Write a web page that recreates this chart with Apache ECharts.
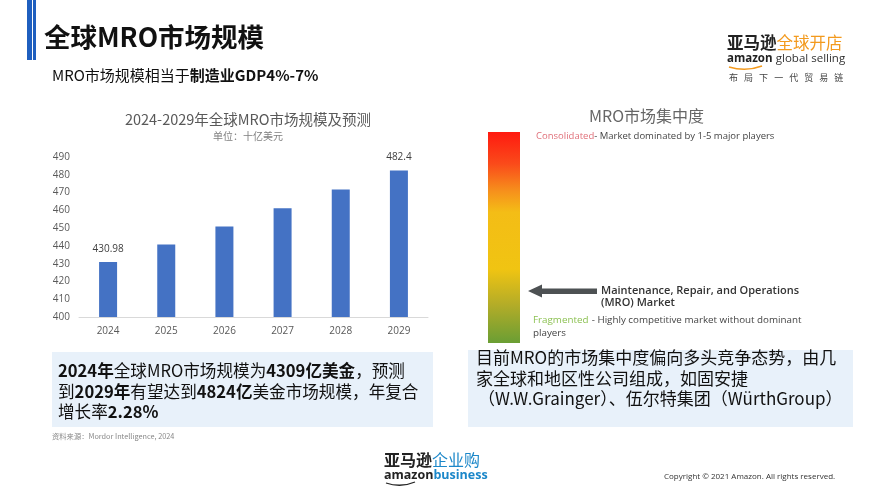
<!DOCTYPE html>
<html>
<head>
<meta charset="utf-8">
<script src="https://cdn.jsdelivr.net/npm/echarts@6/dist/echarts.min.js"></script>
<style>
  html, body { margin: 0; padding: 0; background: #fff; }
  #main { width: 889px; height: 500px; }
</style>
</head>
<body>
<div id="main"></div>
<script>
// 图表数据
const years = ['2024', '2025', '2026', '2027', '2028', '2029']
const marketSize = [430.98, 440.81, 450.86, 461.14, 471.65, 482.4] // 十亿美元
const labelShown = [true, false, false, false, false, true]
const yTicks = [400, 410, 420, 430, 440, 450, 460, 470, 480, 490]

const cjk = '"Noto Sans CJK SC", "Noto Sans", sans-serif'
const latin = '"Open Sans", "Noto Sans", sans-serif'

const chart = echarts.init(document.getElementById('main'))

// 文本元素，y 为垂直中心
function txt(x, y, style) {
  return {
    type: 'text', x: x, y: y,
    style: Object.assign({ verticalAlign: 'middle', align: 'left' }, style)
  }
}

// 柱状图以外的幻灯片元素
const slideGraphics = [
  // 标题左侧蓝条
  { type: 'rect', shape: { x: 27, y: 0, width: 5, height: 60 }, style: { fill: '#1f5fbf' } },
  { type: 'rect', shape: { x: 33, y: 0, width: 3, height: 60 }, style: { fill: '#1f5fbf' } },
  txt(44, 37, { text: '全球MRO市场规模', font: 'bold 26.5px ' + cjk, fill: '#111' }),
  txt(52, 75, {
    text: '{n|MRO市场规模相当于}{b|制造业GDP4%-7%}',
    rich: {
      n: { font: '15px ' + cjk, fill: '#111' },
      b: { font: 'bold 15px ' + cjk, fill: '#111' }
    }
  }),
  // 右上角 logo
  txt(727, 43, {
    text: '{a|亚马逊}{b|全球开店}',
    rich: {
      a: { font: 'bold 16.5px ' + cjk, fill: '#222' },
      b: { font: '16.5px ' + cjk, fill: '#f39a1e' }
    }
  }),
  txt(727, 59, {
    text: '{a|amazon} {b|global selling}',
    rich: {
      a: { font: 'bold 11.5px ' + latin, fill: '#222' },
      b: { font: '11.5px ' + latin, fill: '#333' }
    }
  }),
  {
    type: 'bezierCurve',
    shape: { x1: 729, y1: 67, cpx1: 746, cpy1: 72, x2: 762, y2: 66 },
    style: { stroke: '#f39a1e', lineWidth: 1.6, fill: null }
  },
  txt(729, 78, { text: '布   局   下   一   代   贸   易   链', font: '9px ' + cjk, fill: '#444' }),
  // 右侧：MRO市场集中度
  txt(589, 116, { text: 'MRO市场集中度', font: '16px ' + cjk, fill: '#666' }),
  {
    type: 'rect', shape: { x: 488, y: 132, width: 32, height: 211 },
    style: {
      fill: new echarts.graphic.LinearGradient(0, 0, 0, 1, [
        { offset: 0, color: '#ff1a10' },
        { offset: 0.15, color: '#fa4a1a' },
        { offset: 0.28, color: '#f6901c' },
        { offset: 0.38, color: '#f4bd16' },
        { offset: 0.65, color: '#f0c412' },
        { offset: 0.82, color: '#b3ac28' },
        { offset: 1, color: '#6a9e34' }
      ])
    }
  },
  txt(536, 136, {
    text: '{r|Consolidated}{d|- Market dominated by 1-5 major players}',
    rich: {
      r: { font: '9.5px ' + latin, fill: '#e0707a' },
      d: { font: '9.5px ' + latin, fill: '#444' }
    }
  }),
  {
    type: 'polygon',
    shape: { points: [[528, 291], [542, 284.5], [542, 288.5], [597, 288.5], [597, 294], [542, 294], [542, 297.5]] },
    style: { fill: '#4d5153' }
  },
  txt(601, 291, { text: 'Maintenance, Repair, and Operations', font: '600 11px ' + latin, fill: '#333' }),
  txt(601, 303, { text: '(MRO) Market', font: '600 11px ' + latin, fill: '#333' }),
  txt(533, 320, {
    text: '{g|Fragmented} {d|- Highly competitive market without dominant}',
    rich: {
      g: { font: '9.8px ' + latin, fill: '#8cc152' },
      d: { font: '9.8px ' + latin, fill: '#444' }
    }
  }),
  txt(533, 333, { text: 'players', font: '9.8px ' + latin, fill: '#444' }),
  // 文本框
  { type: 'rect', shape: { x: 52, y: 352, width: 381, height: 75 }, style: { fill: '#e8f1fa' } },
  txt(58, 371, {
    text: '{b|2024年}{n|全球MRO市场规模为}{b|4309亿美金}{n|，预测}',
    rich: {
      b: { font: 'bold 16.6px ' + cjk, fill: '#111' },
      n: { font: '16.6px ' + cjk, fill: '#111' }
    }
  }),
  txt(58, 392, {
    text: '{n|到}{b|2029年}{n|有望达到}{b|4824亿}{n|美金市场规模，年复合}',
    rich: {
      b: { font: 'bold 16.6px ' + cjk, fill: '#111' },
      n: { font: '16.6px ' + cjk, fill: '#111' }
    }
  }),
  txt(58, 412, {
    text: '{n|增长率}{b|2.28%}',
    rich: {
      b: { font: 'bold 16.6px ' + cjk, fill: '#111' },
      n: { font: '16.6px ' + cjk, fill: '#111' }
    }
  }),
  { type: 'rect', shape: { x: 468, y: 350, width: 385, height: 77 }, style: { fill: '#e8f1fa' } },
  txt(476, 358, { text: '目前MRO的市场集中度偏向多头竞争态势，由几', font: '17px ' + cjk, fill: '#111' }),
  txt(476, 379, { text: '家全球和地区性公司组成，如固安捷', font: '17px ' + cjk, fill: '#111' }),
  txt(478, 399, { text: '（W.W.Grainger）、伍尔特集团（WürthGroup）', font: '17px ' + cjk, fill: '#111' }),
  txt(52, 436, { text: '资料来源：Mordor Intelligence, 2024', font: '7.3px ' + cjk, fill: '#888' }),
  // 底部 logo
  txt(384, 460, {
    text: '{a|亚马逊}{b|企业购}',
    rich: {
      a: { font: 'bold 16px ' + cjk, fill: '#222' },
      b: { font: '16px ' + cjk, fill: '#1b87c9' }
    }
  }),
  txt(384, 475, {
    text: '{a|amazon}{b|business}',
    rich: {
      a: { font: 'bold 12.5px ' + latin, fill: '#222' },
      b: { font: 'bold 12.5px ' + latin, fill: '#1b87c9' }
    }
  }),
  {
    type: 'bezierCurve',
    shape: { x1: 386, y1: 483, cpx1: 401, cpy1: 488, x2: 415, y2: 482 },
    style: { stroke: '#222', lineWidth: 1.3, fill: null }
  },
  txt(664, 477, { text: 'Copyright © 2021 Amazon. All rights reserved.', font: '8px ' + latin, fill: '#333' })
]

const option = {
  backgroundColor: '#fff',
  animation: false,
  title: {
    text: '2024-2029年全球MRO市场规模及预测',
    subtext: '单位：十亿美元',
    left: 243,
    top: 107,
    textAlign: 'center',
    itemGap: 5,
    textStyle: { fontFamily: cjk, fontSize: 14.5, fontWeight: 'normal', color: '#595959' },
    subtextStyle: { fontFamily: cjk, fontSize: 10, color: '#7f7f7f' }
  },
  grid: { left: 79, right: 461, top: 157, bottom: 183, containLabel: false },
  xAxis: {
    type: 'category',
    data: years,
    axisLine: { lineStyle: { color: '#d9d9d9' } },
    axisTick: { show: false },
    axisLabel: { fontFamily: latin, fontSize: 10, color: '#595959', margin: 9 }
  },
  yAxis: {
    type: 'value',
    min: yTicks[0],
    max: yTicks[yTicks.length - 1],
    interval: 10,
    axisLine: { show: false },
    axisTick: { show: false },
    splitLine: { show: false },
    axisLabel: { fontFamily: latin, fontSize: 10, color: '#595959', margin: 9 }
  },
  series: [{
    type: 'bar',
    data: marketSize.map((v, i) => ({
      value: v,
      label: { show: labelShown[i] }
    })),
    barWidth: 18,
    itemStyle: { color: '#4472c4' },
    label: {
      position: 'top',
      distance: 8,
      fontFamily: latin,
      fontSize: 10,
      color: '#404040'
    }
  }],
  graphic: slideGraphics
}

chart.setOption(option)
</script>
</body>
</html>
